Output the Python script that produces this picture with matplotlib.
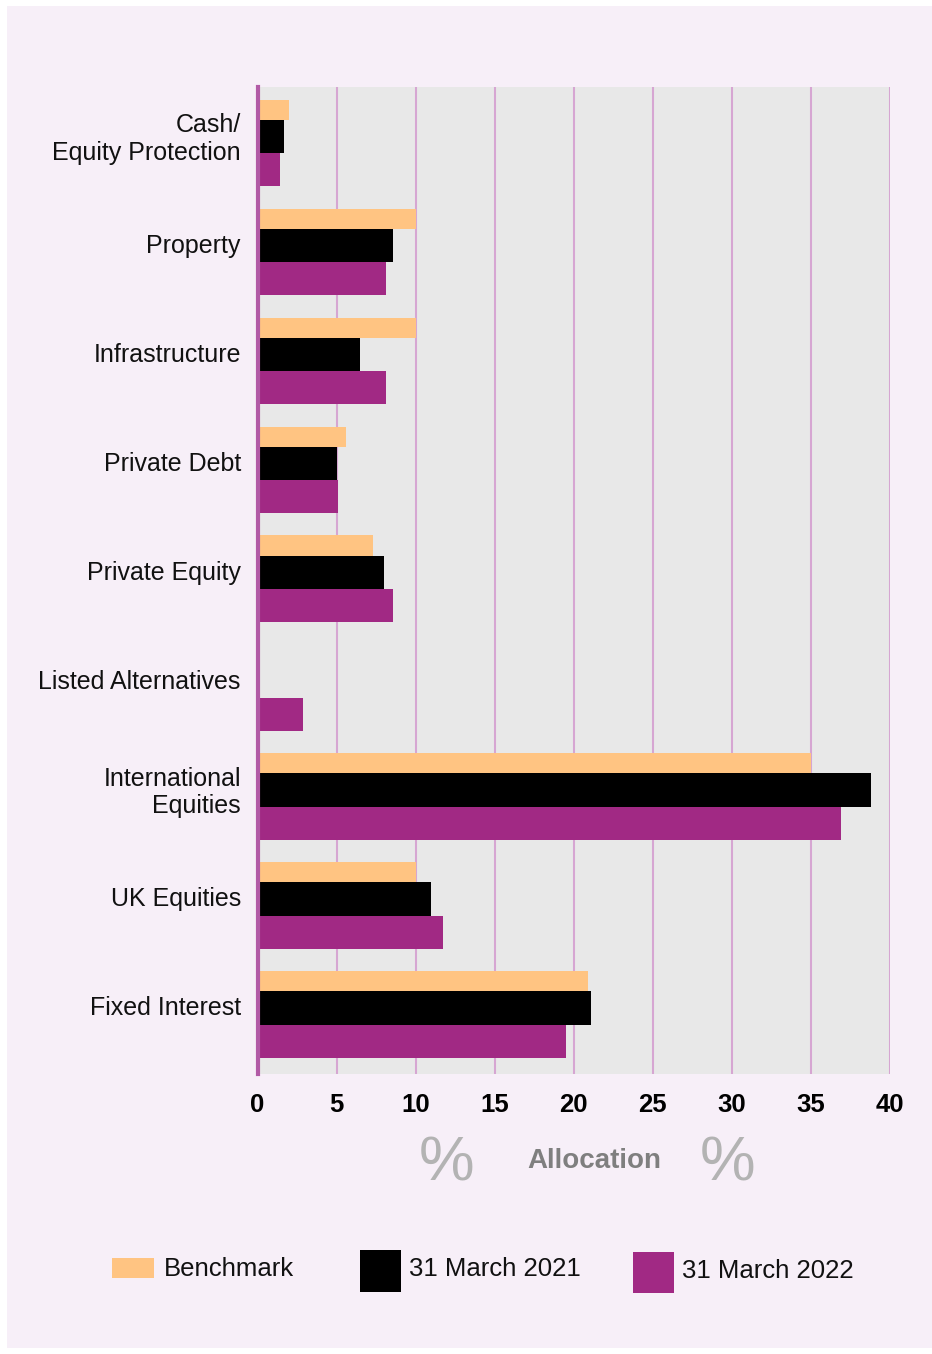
import matplotlib
matplotlib.use("Agg")
import matplotlib.pyplot as plt
from matplotlib.patches import Rectangle
from matplotlib import font_manager
import numpy as np

# ---------------- data ----------------
categories = ["Cash/\nEquity Protection", "Property", "Infrastructure", "Private Debt",
              "Private Equity", "Listed Alternatives", "International\nEquities",
              "UK Equities", "Fixed Interest"]
benchmark = [2.0, 10.0, 10.0, 5.6, 7.3, 0.0, 35.0, 10.0, 20.9]
march_2021 = [1.7, 8.6, 6.5, 5.0, 8.0, 0.0, 38.8, 11.0, 21.1]
march_2022 = [1.4, 8.1, 8.1, 5.1, 8.6, 2.9, 36.9, 11.7, 19.5]
series_labels = ["Benchmark", "31 March 2021", "31 March 2022"]
x_ticks = [0, 5, 10, 15, 20, 25, 30, 35, 40]
x_title = "Allocation"

# ---------------- style ----------------
W, H = 932, 1354
C_BENCH = "#FFC482"
C_2021 = "#000000"
C_2022 = "#A12984"
C_PANEL = "#F7EFF8"
C_AX = "#E8E8E8"
C_GRID = "#D6A6D2"
C_SPINE = "#B25AA6"

names = {f.name for f in font_manager.fontManager.ttflist}
REG = "Liberation Sans" if "Liberation Sans" in names else "DejaVu Sans"


def fx(x):
    return x / W


def fy(y):
    return 1 - y / H


fig = plt.figure(figsize=(W / 100, H / 100), dpi=100, facecolor="white")
fig.patches.append(Rectangle((fx(7), fy(1348)), (W - 7) / W, (1348 - 6) / H,
                             transform=fig.transFigure, facecolor=C_PANEL,
                             edgecolor="none", zorder=-10))

ax_left, ax_right, ax_top, ax_bot = 257.5, 890, 86.7, 1074
ax = fig.add_axes([fx(ax_left), fy(ax_bot), (ax_right - ax_left) / W, (ax_bot - ax_top) / H])
ax.set_zorder(1)
ax.set_facecolor(C_AX)

y = np.arange(len(categories))
ax.barh(y - 0.303, benchmark, height=0.184, color=C_BENCH, zorder=2)
ax.barh(y - 0.057, march_2021, height=0.307, color=C_2021, zorder=2)
ax.barh(y + 0.248, march_2022, height=0.303, color=C_2022, zorder=2)

ax.set_xlim(0, 40)
ax.set_ylim(8.551, -0.517)
ax.set_xticks(x_ticks)
ax.set_xticklabels([str(t) for t in x_ticks], fontfamily=REG, fontweight="bold",
                   fontsize=18.5, color="#000000")
ax.set_yticks(y - 0.075)
ax.set_yticklabels(categories, fontfamily=REG, fontsize=18, color="#111111",
                   linespacing=1.2)
ax.tick_params(axis="both", length=0)
ax.tick_params(axis="x", pad=14)
ax.tick_params(axis="y", pad=12)

ax.grid(axis="x", color=C_GRID, linewidth=1.5, zorder=1)
ax.grid(axis="y", visible=False)
ax.set_axisbelow(True)
for s in ["top", "right", "bottom"]:
    ax.spines[s].set_visible(False)
ax.spines["left"].set_color(C_SPINE)
ax.spines["left"].set_linewidth(3.0)

# axis title with % signs
fig.text(fx(594), fy(1161), x_title, fontfamily=REG, fontweight="bold", fontsize=20,
         color="#7F7F7F", ha="center", va="center")
for xc in (447, 728):
    fig.text(fx(xc), fy(1164), "%", fontfamily=REG, fontsize=45, color="#B3B3B3",
             ha="center", va="center")

# legend
legend_boxes = [(112, 1258, 154, 1278), (360, 1250, 401, 1292), (633, 1252, 674, 1293)]
legend_text = [(164, 1269), (409, 1269), (682, 1271)]
for (x0, y0, x1, y1), (tx, ty), lab, col in zip(legend_boxes, legend_text, series_labels,
                                                 [C_BENCH, C_2021, C_2022]):
    fig.patches.append(Rectangle((fx(x0), fy(y1)), (x1 - x0) / W, (y1 - y0) / H,
                                 transform=fig.transFigure, facecolor=col,
                                 edgecolor="none", zorder=2))
    fig.text(fx(tx), fy(ty), lab, fontfamily=REG, fontsize=18.5, color="#111111",
             ha="left", va="center")

fig.savefig("out.png", dpi=100, facecolor="white")
